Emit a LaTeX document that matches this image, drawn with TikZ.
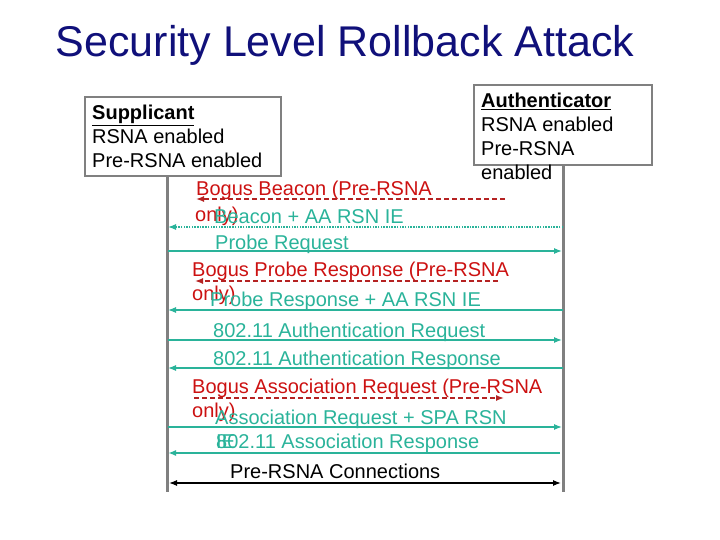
\documentclass[tikz,border=0pt]{standalone}
\usepackage{fontspec}
\setmainfont{Liberation Sans}
\usetikzlibrary{arrows.meta, positioning}
\definecolor{navyTxt}{HTML}{10107A}
\definecolor{msgTeal}{HTML}{2AB39A}
\definecolor{bogusTxt}{HTML}{CC1111}
\definecolor{bogusLine}{HTML}{B52222}
\definecolor{lineGray}{HTML}{808080}
\tikzset{
  headline/.style={text=navyTxt, font=\fontsize{43}{50}\selectfont, inner sep=0pt},
  party/.style={draw=lineGray, line width=2pt, inner sep=0pt},
  partytxt/.style={anchor=north west, align=left, inner sep=0pt,
    font=\fontsize{20}{24}\selectfont},
  lifeline/.style={draw=lineGray, line width=3pt},
  msg/.style={anchor=base west, inner sep=0pt, text=msgTeal,
    font=\fontsize{20}{24}\selectfont},
  bogus/.style={msg, text=bogusTxt},
  okarrow/.style={-{Latex[length=8pt, width=6pt]}, msgTeal, line width=1.2pt},
  badarrow/.style={-{Latex[length=8pt, width=6pt]}, bogusLine, line width=1.4pt,
    dash pattern=on 5pt off 3pt},
}

\begin{document}
\begin{tikzpicture}[x=1pt, y=-1pt]
  \useasboundingbox (0,0) rectangle (720,540);
  \node[headline] (title) at (345,45) {Security Level Rollback Attack};

  % the two parties
  \node[party, minimum width=196pt, minimum height=79pt] (sup) at (183,136.5) {};
  \node[partytxt] (suptxt) at (92,104.5)
    {\underline{\textbf{Supplicant}}\\RSNA enabled\\Pre-RSNA enabled};
  \node[party, minimum width=178pt, minimum height=80pt] (auth) at (563,125) {};
  \node[partytxt] (authtxt) at (481,92.5)
    {\underline{\textbf{Authenticator}}\\RSNA enabled\\Pre-RSNA\\enabled};

  \coordinate (supEnd) at (167,492);
  \draw[lifeline] (supEnd |- sup.south) -- (supEnd);
  \draw[lifeline] (auth.south) -- (auth.south |- supEnd);

  % end points of the messages
  \coordinate (sBcn) at (168,227);   \coordinate (aBcn) at (563,227);
  \coordinate (sPrq) at (168,251);   \coordinate (aPrq) at (562,251);
  \coordinate (sPrs) at (168,310);   \coordinate (aPrs) at (563,310);
  \coordinate (sArq) at (168,340);   \coordinate (aArq) at (562,340);
  \coordinate (sArs) at (168,368);   \coordinate (aArs) at (563,368);
  \coordinate (sSrq) at (168,427);   \coordinate (aSrq) at (562,427);
  \coordinate (sSrs) at (168,453);   \coordinate (aSrs) at (560,453);
  \coordinate (sCon) at (169,483);   \coordinate (aCon) at (561,483);
  \coordinate (fakeBcnA) at (505,199);  \coordinate (fakeBcnS) at (196,199);
  \coordinate (fakePrsA) at (498,281);  \coordinate (fakePrsS) at (195,281);
  \coordinate (fakeSrqS) at (194,398);  \coordinate (fakeSrqA) at (504,398);

  % bogus frames of the attacker
  \node[bogus] (fakeBcn) at (196,196) {Bogus Beacon (Pre-RSNA};
  \node[bogus] (fakeBcn2) at (195,222) {only)};
  \draw[badarrow] (fakeBcnA) -- (fakeBcnS);
  \node[bogus] (fakePrs) at (192,276) {Bogus Probe Response (Pre-RSNA};
  \node[bogus] (fakePrs2) at (192,300) {only)};
  \draw[badarrow] (fakePrsA) -- (fakePrsS);
  \node[bogus] (fakeSrq) at (192,393) {Bogus Association Request (Pre-RSNA};
  \node[bogus] (fakeSrq2) at (192,417) {only)};
  \draw[badarrow] (fakeSrqS) -- (fakeSrqA);

  % genuine handshake
  \node[msg] (bcn) at (214,224) {Beacon + AA RSN IE};
  \draw[okarrow, dash pattern=on 1.5pt off 1.2pt] (aBcn) -- (sBcn);
  \node[msg] (prq) at (215,249) {Probe Request};
  \draw[okarrow] (sPrq) -- (aPrq);
  \node[msg] (prs) at (210,306) {Probe Response + AA RSN IE};
  \draw[okarrow] (aPrs) -- (sPrs);
  \node[msg] (arq) at (213,337) {802.11 Authentication Request};
  \draw[okarrow] (sArq) -- (aArq);
  \node[msg] (ars) at (213,365) {802.11 Authentication Response};
  \draw[okarrow] (aArs) -- (sArs);
  \node[msg] (srq) at (215,424) {Association Request + SPA RSN};
  \node[msg] (srq2) at (216,448) {IE};
  \draw[okarrow] (sSrq) -- (aSrq);
  \node[msg] (srs) at (216,448) {802.11 Association Response};
  \draw[okarrow, line width=2.4pt] (aSrs) -- (sSrs);
  \node[msg, text=black] (con) at (230,478) {Pre-RSNA Connections};
  \draw[{Latex[length=8pt, width=6pt]}-{Latex[length=8pt, width=6pt]}, line width=1.2pt]
    (sCon) -- (aCon);
\end{tikzpicture}
\end{document}
